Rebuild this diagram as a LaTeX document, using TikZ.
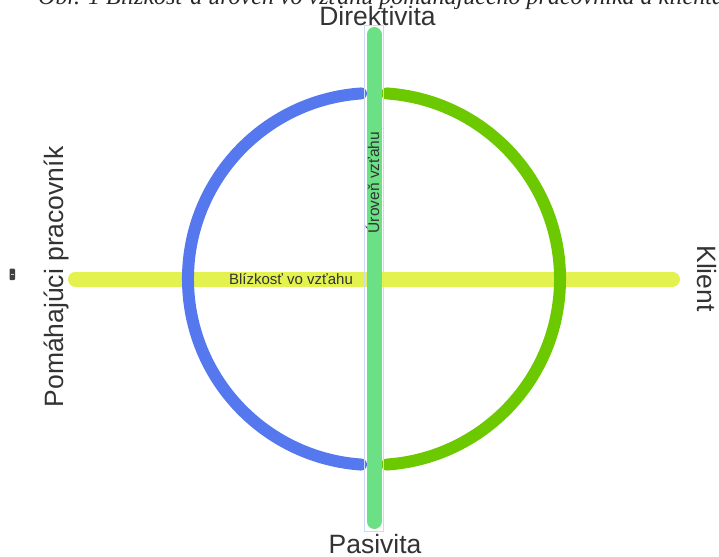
\documentclass[tikz,border=0pt]{standalone}
\usepackage{fontspec}
\setmainfont{Liberation Sans}
\newfontfamily\titlefont{Liberation Serif}
\definecolor{barGreen}{HTML}{6BE085}
\definecolor{barYellow}{HTML}{E3F24F}
\definecolor{arcBlue}{HTML}{5578EE}
\definecolor{arcGreen}{HTML}{6CC900}
\definecolor{selBlue}{HTML}{C8DDF5}
\definecolor{labelGray}{HTML}{333333}
\tikzset{
  bigLabel/.style={text=labelGray, inner sep=0pt, font=\fontsize{26.5}{30}\selectfont},
  smallLabel/.style={text=labelGray, inner sep=0pt, font=\fontsize{15.5}{18}\selectfont},
  axisBar/.style={line width=15pt, line cap=round},
  halfArc/.style={line width=12pt, line cap=round},
}
\begin{document}
\begin{tikzpicture}[x=1pt,y=1pt]
\useasboundingbox (0,0) rectangle (719,-556);
% title (cut at top)
\node[anchor=base west, inner sep=0pt, text=black!85, font=\titlefont\itshape\fontsize{24}{28}\selectfont] (title) at (38,-5) {Obr. 1 Blízkosť a úroveň vo vzťahu pomáhajúceho pracovníka a klienta};
% horizontal bar
\coordinate (hl) at (75.5,-279);
\coordinate (hr) at (672.5,-279);
\draw[axisBar, barYellow] (hl) -- (hr);
% arcs
\coordinate (c) at (374,-279);
\draw[halfArc, arcBlue] (361.0,-93.45) arc[start angle=94, end angle=266, radius=186];
\draw[halfArc, arcGreen] (387.0,-93.45) arc[start angle=86, end angle=-86, radius=186];
% vertical bar with selection frame
\draw[selBlue, line width=1pt] (364.5,-26) rectangle (383.5,-531);
\coordinate (vt) at (374,-34.5);
\coordinate (vb) at (374,-521.5);
\draw[axisBar, barGreen] (vt) -- (vb);
% labels
\node[bigLabel, anchor=base] (dir) at (377.5,-26) {Direktivita};
\node[bigLabel, anchor=base] (pas) at (375,-553) {Pasivita};
\node[bigLabel, anchor=base, rotate=-90] (kl) at (697,-278.5) {Klient};
\node[bigLabel, anchor=base, rotate=90] (pp) at (63,-277) {Pomáhajúci pracovník};
\node[font=\fontsize{15}{18}\selectfont, text=labelGray, inner sep=0pt, anchor=base] (bl) at (291,-284.3) {Blízkosť vo vzťahu};
\node[smallLabel, anchor=base, rotate=90] (ur) at (379,-182.5) {Úroveň vzťahu};
% small icon
\fill[black!75, rounded corners=1pt] (9.5,-268.5) rectangle (15,-280) node[midway] (icon) {};
\draw[white!80!black, line width=1pt] (10.8,-274.2) -- (13.7,-274.2);
\end{tikzpicture}
\end{document}
